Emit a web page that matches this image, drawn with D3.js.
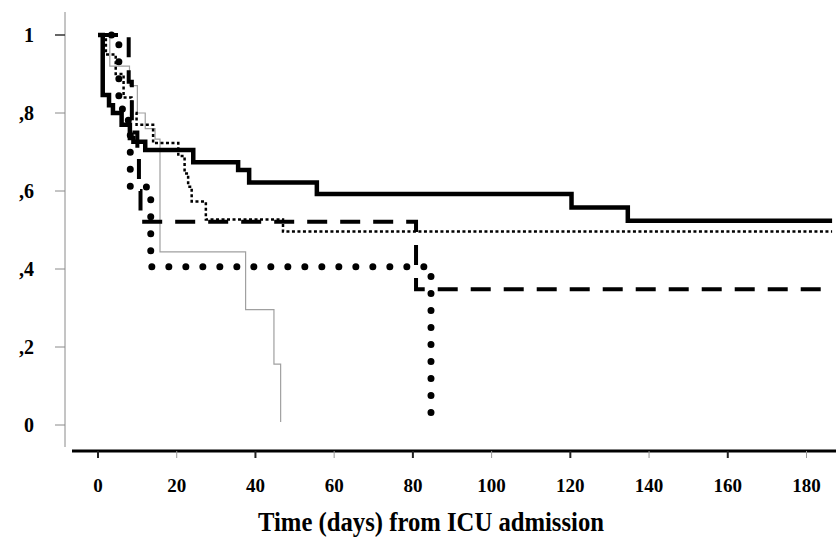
<!DOCTYPE html>
<html>
<head>
<meta charset="utf-8">
<script src="https://cdn.jsdelivr.net/npm/d3@7"></script>
<style>
  body { margin: 0; background: #fff; }
  text { font-family: "Liberation Serif", "Times New Roman", serif; font-weight: bold; fill: #000; }
</style>
</head>
<body>
<div id="main"></div>
<script>
// survival values (time in days, proportion surviving)
var solidTimes = [0, 1.2, 2.8, 3.8, 6.0, 8.1, 9.0, 12.0, 24.2, 35.6, 38.4, 55.6, 120.3, 134.6, 186.5];
var solidSurv  = [1, 0.846, 0.82, 0.80, 0.77, 0.736, 0.726, 0.705, 0.674, 0.654, 0.622, 0.592, 0.558, 0.524, 0.524];

var finedotTimes = [0, 2, 4.5, 6.5, 8.5, 9.8, 14, 20.4, 22, 22.9, 23.8, 27.4, 47, 186.5];
var finedotSurv  = [1, 0.95, 0.90, 0.84, 0.80, 0.77, 0.723, 0.69, 0.645, 0.611, 0.573, 0.527, 0.496, 0.496];

var dashTimes = [0, 7.8, 8.6, 10, 10.4, 10.8, 80.8, 186.5];
var dashSurv  = [1, 0.88, 0.75, 0.69, 0.60, 0.521, 0.348, 0.348];

var bigdotTimes = [0, 5.3, 7.7, 8.2, 13.4, 84.6];
var bigdotSurv  = [1, 0.81, 0.745, 0.61, 0.406, 0.03];

var grayTimes = [0, 3, 8, 10, 12, 14.5, 15.75, 37.5, 44.7, 46.4];
var graySurv  = [1, 0.92, 0.87, 0.80, 0.76, 0.733, 0.444, 0.296, 0.156, 0.008];

var xTicks = [0, 20, 40, 60, 80, 100, 120, 140, 160, 180];
var yTicks = [0, 0.2, 0.4, 0.6, 0.8, 1];
var yTickLabels = ["0", ",2", ",4", ",6", ",8", "1"];

var svg = d3.select("#main").append("svg")
    .attr("width", 836)
    .attr("height", 543);

var x = d3.scaleLinear().domain([0, 180]).range([98, 806.5]);
var y = d3.scaleLinear().domain([0, 1]).range([425, 35]);

// y axis (thin grey)
svg.append("line")
    .attr("x1", 65).attr("x2", 65)
    .attr("y1", 12).attr("y2", 447)
    .attr("stroke", "#8a8a8a").attr("stroke-width", 1);

svg.selectAll(".ytick").data(yTicks).enter().append("line")
    .attr("x1", 55).attr("x2", 65)
    .attr("y1", function(d) { return y(d); })
    .attr("y2", function(d) { return y(d); })
    .attr("stroke", function(d) { return d == 1 ? "#333" : "#8a8a8a"; })
    .attr("stroke-width", function(d) { return d == 1 ? 1.5 : 1; });

svg.selectAll(".ylab").data(yTicks).enter().append("text")
    .attr("x", 34)
    .attr("y", function(d) { return y(d); })
    .attr("dy", "0.35em")
    .attr("text-anchor", "end")
    .attr("font-size", 20)
    .text(function(d, i) { return yTickLabels[i]; });

// x axis (thick black)
svg.append("line")
    .attr("x1", 72).attr("x2", 836)
    .attr("y1", 451).attr("y2", 451)
    .attr("stroke", "#000").attr("stroke-width", 3);

svg.selectAll(".xtick").data(xTicks).enter().append("line")
    .attr("x1", function(d) { return x(d); })
    .attr("x2", function(d) { return x(d); })
    .attr("y1", 451).attr("y2", 458)
    .attr("stroke", function(d, i) { return i % 2 == 0 ? "#222" : "#999"; })
    .attr("stroke-width", function(d, i) { return i % 2 == 0 ? 2 : 1; });

svg.selectAll(".xlab").data(xTicks).enter().append("text")
    .attr("x", function(d) { return x(d); })
    .attr("y", 492)
    .attr("text-anchor", "middle")
    .attr("font-size", 19)
    .text(function(d) { return d; });

// axis title, a bit taller and narrower like the original
svg.append("text")
    .attr("x", 431)
    .attr("y", 531)
    .attr("text-anchor", "middle")
    .attr("font-size", 27)
    .attr("textLength", 346)
    .attr("lengthAdjust", "spacingAndGlyphs")
    .text("Time (days) from ICU admission");

// the curves
var line = d3.line()
    .x(function(d) { return x(d[0]); })
    .y(function(d) { return y(d[1]); })
    .curve(d3.curveStepAfter);

function pts(times, surv) {
  return times.map(function(t, i) { return [t, surv[i]]; });
}

svg.append("path")
    .attr("d", line(pts(grayTimes, graySurv)))
    .attr("fill", "none")
    .attr("stroke", "#a0a0a0")
    .attr("stroke-width", 1.2);

svg.append("path")
    .attr("d", line(pts(finedotTimes, finedotSurv)))
    .attr("fill", "none")
    .attr("stroke", "#000")
    .attr("stroke-width", 2.5)
    .attr("stroke-dasharray", "3,2.5");

svg.append("path")
    .attr("d", line(pts(solidTimes, solidSurv)))
    .attr("fill", "none")
    .attr("stroke", "#000")
    .attr("stroke-width", 4.5);

svg.append("path")
    .attr("d", line(pts(dashTimes, dashSurv)))
    .attr("fill", "none")
    .attr("stroke", "#000")
    .attr("stroke-width", 4)
    .attr("stroke-dasharray", "20,13");

svg.append("path")
    .attr("d", line(pts(bigdotTimes, bigdotSurv)))
    .attr("fill", "none")
    .attr("stroke", "#000")
    .attr("stroke-width", 7)
    .attr("stroke-linecap", "round")
    .attr("stroke-dasharray", "0,17")
    .attr("stroke-dashoffset", 3.5);
</script>
</body>
</html>
